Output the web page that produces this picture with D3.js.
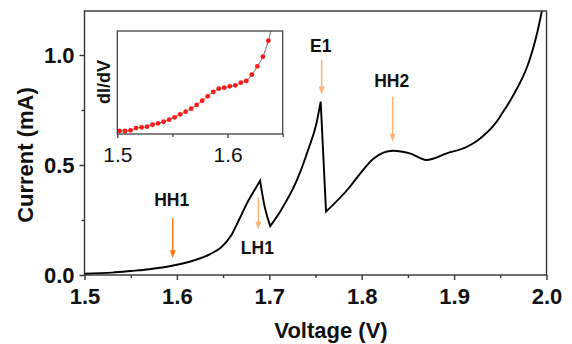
<!DOCTYPE html>
<html>
<head>
<meta charset="utf-8">
<script src="https://cdn.jsdelivr.net/npm/d3@7"></script>
<style>
body { margin: 0; background: #fff; }
text { font-family: "Liberation Sans", Arial, sans-serif; }
</style>
</head>
<body>
<div id="main"></div>
<script>
// main I-V curve
const voltage = [1.500, 1.530, 1.550, 1.570, 1.596, 1.618, 1.636, 1.648, 1.659, 1.668, 1.677, 1.686, 1.690,
    1.695, 1.701, 1.712, 1.730, 1.742, 1.751, 1.7556, 1.7614, 1.787, 1.793, 1.813, 1.834, 1.852, 1.870,
    1.892, 1.914, 1.925, 1.932, 1.940, 1.947, 1.952, 1.958, 1.965, 1.971, 1.977, 1.982, 1.986, 1.990, 1.995, 1.998];
const current = [0.006, 0.011, 0.018, 0.026, 0.043, 0.066, 0.095, 0.126, 0.182, 0.258, 0.335, 0.400, 0.429,
    0.310, 0.222, 0.290, 0.432, 0.568, 0.689, 0.788, 0.288, 0.400, 0.432, 0.530, 0.565, 0.553, 0.523,
    0.553, 0.583, 0.610, 0.634, 0.666, 0.702, 0.735, 0.774, 0.824, 0.871, 0.925, 0.982, 1.037, 1.102, 1.200, 1.260];
// sharp kinks of the curve (peaks and valleys drawn with a corner)
const cornerV = [1.690, 1.701, 1.7556, 1.7614];

// inset dI/dV (arbitrary units)
const insetV = [1.502, 1.507, 1.512, 1.517, 1.522, 1.527, 1.532, 1.537, 1.542, 1.547, 1.552, 1.557, 1.562, 1.567,
    1.572, 1.577, 1.582, 1.587, 1.592, 1.597, 1.602, 1.607, 1.612, 1.617, 1.622, 1.627, 1.632, 1.637];
const insetG = [0.029, 0.029, 0.036, 0.058, 0.065, 0.071, 0.090, 0.104, 0.119, 0.139, 0.162, 0.191, 0.217, 0.246,
    0.282, 0.323, 0.366, 0.408, 0.440, 0.450, 0.463, 0.473, 0.498, 0.515, 0.576, 0.657, 0.750, 0.906];
const insetLineEndV = 1.641;
const insetLineEndG = 1.08;

const xTicks = [1.5, 1.6, 1.7, 1.8, 1.9, 2.0];
const xMinor = [1.55, 1.65, 1.75, 1.85, 1.95];
const yTicks = [0.0, 0.5, 1.0];
const yMinor = [0.25, 0.75];
const insetXTicks = [1.5, 1.6];
const insetXMinor = [1.55, 1.65];

// peak annotations: label, voltage of the arrow, arrow top/bottom current, label current, colour
const peakLabels = ["HH1", "LH1", "E1", "HH2"];
const peakV = [1.5955, 1.6882, 1.7567, 1.8335];
const peakArrowTop = [0.258, 0.353, 0.980, 0.810];
const peakArrowTip = [0.076, 0.207, 0.820, 0.606];
const peakTextI = [0.312, 0.095, 1.015, 0.856];
const peakColors = ["#ff7a1a", "#ffb57a", "#ffb57a", "#ffb57a"];

const ctx = {
    w: 572,
    h: 344,
    left: 84.5,
    right: 546.5,
    top: 11,
    bottom: 275,
    inset: { left: 117.3, right: 282.7, top: 31, bottom: 134 },
    frame: "#333",
};

function createViz() {
    let svgEl = d3.select("#main").append("svg")
        .attr("width", ctx.w)
        .attr("height", ctx.h);

    let x = d3.scaleLinear().domain([1.5, 2.0]).range([ctx.left, ctx.right]);
    let y = d3.scaleLinear().domain([0, 1.2]).range([ctx.bottom, ctx.top]);

    svgEl.append("clipPath").attr("id", "mainClip")
        .append("rect")
        .attr("x", ctx.left).attr("y", ctx.top)
        .attr("width", ctx.right - ctx.left).attr("height", ctx.bottom - ctx.top);

    // curve: smooth pieces joined at the sharp corners
    let pts = voltage.map((v, i) => [v, current[i]]);
    let segments = [];
    let seg = [];
    pts.forEach((p) => {
        seg.push(p);
        if (cornerV.includes(p[0])) {
            segments.push(seg);
            seg = [p];
        }
    });
    segments.push(seg);
    let line = d3.line().x((d) => x(d[0])).y((d) => y(d[1])).curve(d3.curveMonotoneX);
    let dStr = segments.map((s, i) => {
        let d = line(s);
        return i === 0 ? d : "L" + d.slice(1);
    }).join("");
    svgEl.append("path")
        .attr("clip-path", "url(#mainClip)")
        .attr("fill", "none")
        .attr("stroke", "#000")
        .attr("stroke-width", 1.9)
        .attr("stroke-linejoin", "miter")
        .attr("d", dStr);

    // frame
    svgEl.append("rect")
        .attr("x", ctx.left).attr("y", ctx.top)
        .attr("width", ctx.right - ctx.left).attr("height", ctx.bottom - ctx.top)
        .attr("fill", "none")
        .attr("stroke", ctx.frame)
        .attr("stroke-width", 1.4);

    // axes
    let xAxis = svgEl.append("g")
        .attr("transform", `translate(0,${ctx.bottom})`)
        .call(d3.axisBottom(x).tickValues(xTicks).tickSize(5).tickPadding(8).tickFormat(d3.format(".1f")));
    let xMin = svgEl.append("g")
        .attr("transform", `translate(0,${ctx.bottom})`)
        .call(d3.axisBottom(x).tickValues(xMinor).tickSize(3).tickFormat(""));
    let yAxis = svgEl.append("g")
        .attr("transform", `translate(${ctx.left},0)`)
        .call(d3.axisLeft(y).tickValues(yTicks).tickSize(5).tickPadding(5).tickFormat(d3.format(".1f")));
    let yMin = svgEl.append("g")
        .attr("transform", `translate(${ctx.left},0)`)
        .call(d3.axisLeft(y).tickValues(yMinor).tickSize(3).tickFormat(""));
    [xAxis, xMin, yAxis, yMin].forEach((g) => {
        g.select(".domain").remove();
        g.selectAll("line").attr("stroke", ctx.frame).attr("stroke-width", 1.4);
        g.selectAll("text")
            .attr("fill", "#111")
            .style("font-size", "22px")
            .style("font-weight", "bold")
            .style("font-family", "'Liberation Sans', Arial, sans-serif");
    });

    svgEl.append("text")
        .attr("x", 331)
        .attr("y", 338)
        .attr("text-anchor", "middle")
        .style("font-size", "22px")
        .style("font-weight", "bold")
        .attr("fill", "#111")
        .text("Voltage (V)");
    svgEl.append("text")
        .attr("transform", "translate(33,155) rotate(-90)")
        .attr("text-anchor", "middle")
        .style("font-size", "22px")
        .style("font-weight", "bold")
        .attr("fill", "#111")
        .text("Current (mA)");

    // peak arrows and labels
    peakLabels.forEach((lab, i) => {
        let px = x(peakV[i]);
        let y0 = y(peakArrowTop[i]);
        let y1 = y(peakArrowTip[i]);
        svgEl.append("line")
            .attr("x1", px).attr("x2", px)
            .attr("y1", y0).attr("y2", y1 - 6)
            .attr("stroke", peakColors[i])
            .attr("stroke-width", 1.6);
        svgEl.append("path")
            .attr("d", `M${px - 3},${y1 - 8} L${px + 3},${y1 - 8} L${px},${y1} Z`)
            .attr("fill", peakColors[i]);
        svgEl.append("text")
            .attr("x", px - 1)
            .attr("y", y(peakTextI[i]))
            .attr("text-anchor", "middle")
            .style("font-size", "17.5px")
            .style("font-weight", "bold")
            .attr("fill", "#111")
            .text(lab);
    });

    createInset(svgEl);
}

function createInset(svgEl) {
    let b = ctx.inset;
    let x = d3.scaleLinear().domain([1.5, 1.65]).range([b.left, b.right]);
    let y = d3.scaleLinear().domain([0, 1]).range([b.bottom, b.top]);
    let g = svgEl.append("g");

    g.append("rect")
        .attr("x", b.left).attr("y", b.top)
        .attr("width", b.right - b.left).attr("height", b.bottom - b.top)
        .attr("fill", "#fff");

    svgEl.append("clipPath").attr("id", "insetClip")
        .append("rect")
        .attr("x", b.left).attr("y", b.top)
        .attr("width", b.right - b.left).attr("height", b.bottom - b.top);

    let linePts = insetV.map((v, i) => [v, insetG[i]]);
    linePts.push([insetLineEndV, insetLineEndG]);
    g.append("path")
        .datum(linePts)
        .attr("clip-path", "url(#insetClip)")
        .attr("fill", "none")
        .attr("stroke", "#666")
        .attr("stroke-width", 1)
        .attr("d", d3.line().x((d) => x(d[0])).y((d) => y(d[1])).curve(d3.curveMonotoneX));

    g.selectAll("circle")
        .data(insetV)
        .enter()
        .append("circle")
        .attr("cx", (d) => x(d))
        .attr("cy", (d, i) => y(insetG[i]))
        .attr("r", 2.4)
        .attr("fill", "#ff1a1a");

    g.append("rect")
        .attr("x", b.left).attr("y", b.top)
        .attr("width", b.right - b.left).attr("height", b.bottom - b.top)
        .attr("fill", "none")
        .attr("stroke", ctx.frame)
        .attr("stroke-width", 1.2);

    let ax = g.append("g")
        .attr("transform", `translate(0,${b.bottom})`)
        .call(d3.axisBottom(x).tickValues(insetXTicks).tickSize(4).tickPadding(9).tickFormat(d3.format(".1f")));
    let axMin = g.append("g")
        .attr("transform", `translate(0,${b.bottom})`)
        .call(d3.axisBottom(x).tickValues(insetXMinor).tickSize(3).tickFormat(""));
    [ax, axMin].forEach((a) => {
        a.select(".domain").remove();
        a.selectAll("line").attr("stroke", ctx.frame).attr("stroke-width", 1.2);
        a.selectAll("text")
            .attr("fill", "#111")
            .style("font-size", "21px")
            .style("font-family", "'Liberation Sans', Arial, sans-serif");
    });

    g.append("text")
        .attr("transform", `translate(110,${(b.top + b.bottom) / 2 - 0.5}) rotate(-90)`)
        .attr("text-anchor", "middle")
        .style("font-size", "18px")
        .style("font-weight", "bold")
        .attr("fill", "#111")
        .text("dI/dV");
}

createViz();
</script>
</body>
</html>
